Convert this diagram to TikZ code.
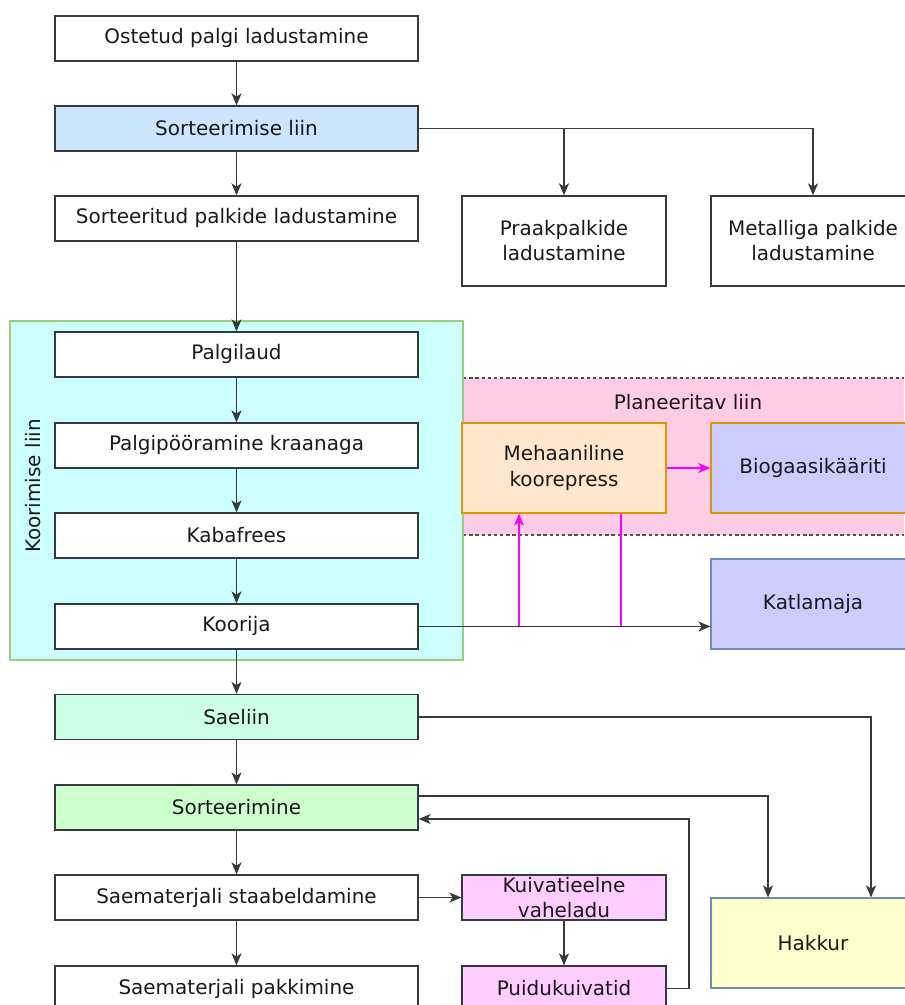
\documentclass[tikz,border=0pt]{standalone}
\usepackage{fontspec}
\setmainfont{DejaVu Sans}
\usetikzlibrary{calc,positioning,arrows.meta}
\definecolor{CTXT}{RGB}{26,26,26}
\definecolor{CBRD}{RGB}{54,57,61}
\definecolor{CSRT}{RGB}{204,229,255}
\definecolor{CKOO}{RGB}{204,255,255}
\definecolor{CKBR}{RGB}{151,208,119}
\definecolor{CPNK}{RGB}{255,204,230}
\definecolor{CDSH}{RGB}{80,80,80}
\definecolor{CPRS}{RGB}{255,230,204}
\definecolor{CORG}{RGB}{215,155,0}
\definecolor{CBIO}{RGB}{204,204,255}
\definecolor{CBLU}{RGB}{108,142,191}
\definecolor{CSAE}{RGB}{204,255,230}
\definecolor{CSOR}{RGB}{204,255,204}
\definecolor{CKUI}{RGB}{255,204,255}
\definecolor{CHAK}{RGB}{255,255,204}
\definecolor{CMAG}{RGB}{255,0,255}

\begin{document}
\begin{tikzpicture}[font=\fontsize{14.2pt}{17.8pt}\selectfont,
  box/.style={draw=CBRD,line width=0.9pt,fill=white,text=CTXT,align=center,
    inner sep=0pt,minimum width=9.0750cm,minimum height=1.1250cm},
  sbox/.style={box,minimum width=5.1000cm},
  tbox/.style={sbox,minimum height=2.2500cm},
  flow/.style={CBRD,line width=0.9pt,-{Stealth[length=3.0mm,width=2.5mm,inset=0.8mm]}},
  mflow/.style={CMAG,line width=0.9pt,-{Stealth[length=3.0mm,width=2.5mm,inset=0.8mm]}},
  mline/.style={CMAG,line width=0.9pt}]
  \useasboundingbox (0.0000cm,0.0000cm) rectangle (22.6000cm,25.1250cm);
  % planned line and debarking line backgrounds
  \fill[CPNK] (11.5750cm,11.7500cm) rectangle (22.6000cm,15.6750cm);
  \draw[CDSH,line width=0.9pt,dash pattern=on 2.4pt off 2pt] (11.5750cm,15.6750cm) -- (22.6000cm,15.6750cm);
  \draw[CDSH,line width=0.9pt,dash pattern=on 2.4pt off 2pt] (11.5750cm,11.7500cm) -- (22.6000cm,11.7500cm);
  \node[text=CTXT] (plan) at (17.2000cm,15.0750cm) {Planeeritav liin};
  \filldraw[fill=CKOO,draw=CKBR,line width=0.9pt] (0.2500cm,8.6250cm) rectangle (11.5750cm,17.1000cm);
  \node[text=CTXT,rotate=90] (koolbl) at (0.8250cm,12.9750cm) {Koorimise liin};
  % main column
  \node[box] (ostetud) at (5.9125cm,24.1625cm) {Ostetud palgi ladustamine};
  \node[box,fill=CSRT] (sortliin) at (5.9125cm,21.9125cm) {Sorteerimise liin};
  \node[box] (sorteeritud) at (5.9125cm,19.6625cm) {Sorteeritud palkide ladustamine};
  \node[box] (palgilaud) at (5.9125cm,16.2625cm) {Palgilaud};
  \node[box] (poora) at (5.9125cm,13.9875cm) {Palgipööramine kraanaga};
  \node[box] (kabafrees) at (5.9125cm,11.7375cm) {Kabafrees};
  \node[box] (koorija) at (5.9125cm,9.4625cm) {Koorija};
  \node[box,fill=CSAE] (saeliin) at (5.9125cm,7.2000cm) {Saeliin};
  \node[box,fill=CSOR] (sorteerimine) at (5.9125cm,4.9375cm) {Sorteerimine};
  \node[box] (staab) at (5.9125cm,2.6875cm) {Saematerjali staabeldamine};
  \node[box] (pakk) at (5.9125cm,0.4125cm) {Saematerjali pakkimine};
  % side boxes
  \node[tbox] (praak) at (14.1000cm,19.1000cm) {Praakpalkide\\ladustamine};
  \node[tbox] (metall) at (20.3250cm,19.1000cm) {Metalliga palkide\\ladustamine};
  \node[tbox,fill=CPRS,draw=CORG] (press) at (14.1000cm,13.4250cm) {Mehaaniline\\koorepress};
  \node[tbox,fill=CBIO,draw=CORG] (biogaas) at (20.3250cm,13.4250cm) {Biogaasikääriti};
  \node[tbox,fill=CBIO,draw=CBLU] (katla) at (20.3250cm,10.0250cm) {Katlamaja};
  \node[sbox,fill=CKUI] (kuiva) at (14.1000cm,2.6875cm) {Kuivatieelne\\vaheladu};
  \node[sbox,fill=CKUI] (puidu) at (14.1000cm,0.4125cm) {Puidukuivatid};
  \node[tbox,fill=CHAK,draw=CBLU] (hakkur) at (20.3250cm,1.5500cm) {Hakkur};
  % connectors
  \draw[flow] (ostetud) -- (sortliin);
  \draw[flow] (sortliin) -- (sorteeritud);
  \draw[flow] (sortliin.east) -| (praak.north);
  \draw[flow] (sortliin.east) -| (metall.north);
  \draw[flow] (sorteeritud) -- (palgilaud);
  \draw[flow] (palgilaud) -- (poora);
  \draw[flow] (poora) -- (kabafrees);
  \draw[flow] (kabafrees) -- (koorija);
  \draw[flow] (koorija.east) -- (koorija.east -| katla.west);
  \coordinate (tapin) at (12.9750cm,9.4625cm);
  \coordinate (tapout) at (15.5250cm,9.4625cm);
  \draw[mflow] (tapin) -- (tapin |- press.south);
  \draw[mline] (tapout |- press.south) -- (tapout);
  \draw[mflow] (press) -- (biogaas);
  \draw[flow] (koorija) -- (saeliin);
  \draw[flow] (saeliin) -- (sorteerimine);
  \draw[flow] (saeliin.east) -| ([xshift=1.4500cm]hakkur.north);
  \draw[flow] ([yshift=0.2875cm]sorteerimine.east) -| ([xshift=-1.1250cm]hakkur.north);
  \draw[flow] (sorteerimine) -- (staab);
  \draw[flow] (staab) -- (pakk);
  \draw[flow] (staab) -- (kuiva);
  \draw[flow] (kuiva) -- (puidu);
  \coordinate (ret) at (17.2250cm,4.6500cm);
  \draw[flow] (puidu.east) -| (ret) -- (ret -| sorteerimine.east);
\end{tikzpicture}
\end{document}
